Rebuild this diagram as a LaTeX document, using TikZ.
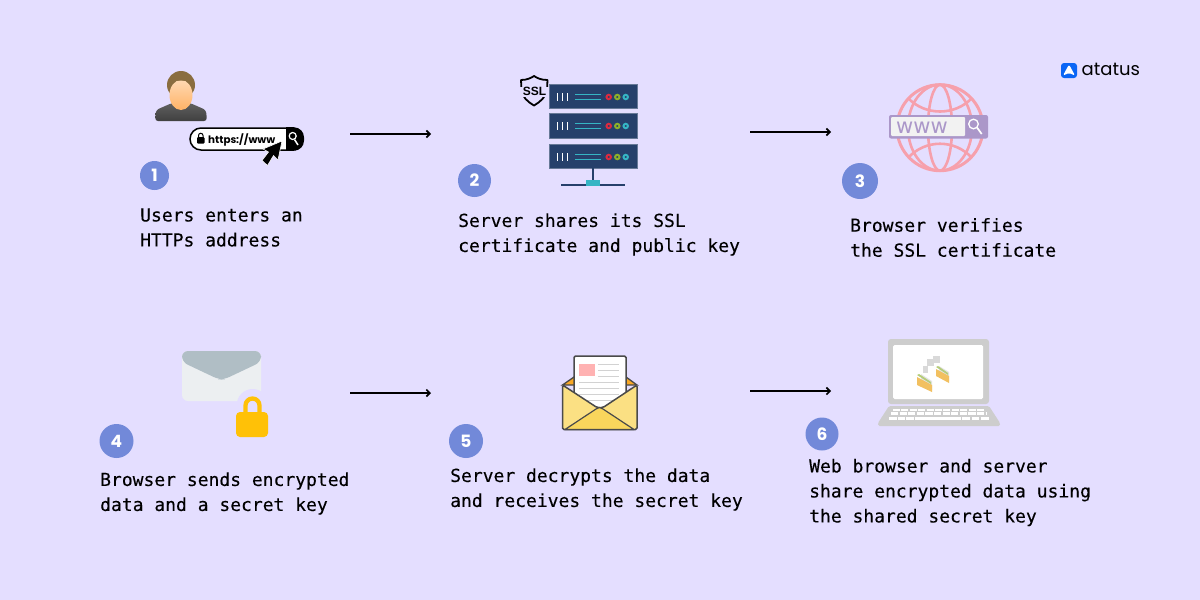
\documentclass[tikz,border=0pt]{standalone}
\usepackage{fontspec}
\setmainfont{DejaVu Sans Mono}
\newfontfamily\logofont{Poppins}
\newfontfamily\barfont{Liberation Sans}
\newfontfamily\wwwfont{DejaVu Sans}
\usetikzlibrary{arrows.meta}
\definecolor{page_bg}{HTML}{E4DEFF}
\definecolor{badge_blue}{HTML}{7289D9}
\definecolor{logo_blue}{HTML}{0B66F5}
\definecolor{hair_brown}{HTML}{8A6D3F}
\definecolor{rack_blue}{HTML}{26406B}
\definecolor{rack_teal}{HTML}{35B5C4}
\definecolor{rack_red}{HTML}{DC2A40}
\definecolor{rack_green}{HTML}{8DB02A}
\definecolor{globe_pink}{HTML}{F6A0AC}
\definecolor{globe_purple}{HTML}{AB97C9}
\definecolor{mail_body}{HTML}{ECEFF1}
\definecolor{mail_flap}{HTML}{B0BEC5}
\definecolor{lock_gold}{HTML}{FFC107}
\definecolor{mail_line}{HTML}{4A4A4A}
\definecolor{open_body}{HTML}{FBE083}
\definecolor{open_flap}{HTML}{F9D65C}
\definecolor{open_back}{HTML}{F9A825}
\definecolor{laptop_gray}{HTML}{CDCDCD}
\definecolor{folder_gold}{HTML}{F2C060}
\definecolor{folder_green}{HTML}{B5CC7A}

\begin{document}
\begin{tikzpicture}
  [x=1pt, y=-1pt]
  \tikzstyle{badge} = [circle, fill=badge_blue, text=white, inner sep=0pt, font=\logofont\bfseries\fontsize{17}{17}\selectfont];
  \tikzstyle{caption} = [anchor=west, align=left, inner sep=0pt, text=black, font=\fontsize{18}{25}\selectfont\addfontfeature{FakeBold=0.2}];
  \tikzstyle{flow_arrow} = [draw=black, line width=1.3pt, -{Straight Barb[length=3.5pt, width=7pt, line width=1.6pt]}];
  \tikzstyle{rack} = [fill=rack_blue, draw=rack_blue!70!white, line width=0.7pt];
  \tikzstyle{rack_bar} = [draw=white, line width=1.7pt];
  \tikzstyle{rack_line} = [draw=rack_teal, line width=1.7pt];
  \tikzstyle{led_red} = [circle, draw=rack_red, line width=2pt];
  \tikzstyle{led_green} = [circle, draw=rack_green, line width=2pt];
  \tikzstyle{led_teal} = [circle, draw=rack_teal, line width=2pt];
  \tikzstyle{paper_line} = [draw=gray!35, line width=1.6pt];
  \tikzstyle{key_row} = [draw=white, line width=3pt];

  \fill[page_bg] (0, 0) rectangle (1200, 600);
  \useasboundingbox (0, 0) rectangle (1200, 600);

  % logo
  \fill[logo_blue, rounded corners=3pt] (1061, 63) rectangle (1077, 78);
  \fill[white, rounded corners=1.5pt] (1069, 64.5) -- (1075, 75.5) -- (1069, 73) -- (1063, 75.5) -- cycle;
  \node[anchor=base west, inner sep=0pt, font=\logofont\fontsize{18}{18}\selectfont] (logo) at (1081.5, 75.7) {atatus};

  % step 1: user
  \shade[top color=gray!75!black, bottom color=black!75, rounded corners=3pt] (155, 121) -- (156, 110) -- (172, 103) -- (190, 103) -- (206, 110) -- (207, 121) -- cycle;
  \fill[orange!55!yellow!70!white] (175, 100) rectangle (187, 108);
  \fill[hair_brown] (181, 85) ellipse (14 and 14);
  \shade[top color=orange!30!white, bottom color=orange!60!white] (181, 95) ellipse (11.5 and 15);
  \fill[hair_brown] (168, 82) .. controls (172, 80) and (190, 80) .. (194, 82) .. controls (190, 73) and (172, 73) .. (168, 82) -- cycle;
  \draw[draw=black, fill=white, line width=1.5pt, rounded corners=11pt] (190, 128) rectangle (303, 150);
  \fill[black, rounded corners=10pt] (286, 127.3) -- (304, 127.3) -- (304, 150.7) -- (286, 150.7) [sharp corners] -- cycle;
  \fill[black] (286, 127.3) rectangle (294, 150.7);
  \fill[black, rounded corners=1pt] (197, 137) rectangle (204.5, 143.5);
  \draw[black, line width=1pt] (198.5, 138) -- (198.5, 135.5) arc (180:360:2.25) -- (203, 138);
  \node[font=\logofont\bfseries\fontsize{10.3}{10.3}\selectfont, inner sep=0pt, anchor=west] (url) at (208, 139.5) {https://www};
  \draw[white, line width=1.2pt] (292.7, 136) circle (3.5);
  \draw[white, line width=1.5pt] (294.5, 139.5) -- (298, 145);
  \draw[white, fill=black, line width=0.6pt, line join=round] (282, 141) -- (278, 160) -- (273.5, 155.5) -- (267.5, 165.5) -- (262, 160.5) -- (268.5, 152) -- (263, 149) -- cycle;
  \node[badge, minimum size=29pt] (badge_a) at (154.5, 175.5) {1};
  \node[caption] (text_a) at (140, 227.5) {Users enters an\\HTTPs address};

  % step 2: server
  \path[rack] (549, 84) rectangle (637, 108);
  \path[rack] (549, 113.5) rectangle (637, 138);
  \path[rack] (549, 144.5) rectangle (637, 168.5);

  \draw[rack_bar] (557.5, 93) -- (557.5, 101);
  \draw[rack_bar] (562.5, 93) -- (562.5, 101);
  \draw[rack_bar] (567.5, 93) -- (567.5, 101);
  \draw[rack_line] (575, 94.5) -- (601, 94.5);
  \draw[rack_line] (575, 99.5) -- (601, 99.5);
  \draw[led_red] (608.7, 97) circle (2.2);
  \draw[led_green] (617.3, 97) circle (2.2);
  \draw[led_teal] (625.7, 97) circle (2.2);

  \draw[rack_bar] (557.5, 122) -- (557.5, 130);
  \draw[rack_bar] (562.5, 122) -- (562.5, 130);
  \draw[rack_bar] (567.5, 122) -- (567.5, 130);
  \draw[rack_line] (575, 123.5) -- (601, 123.5);
  \draw[rack_line] (575, 128.5) -- (601, 128.5);
  \draw[led_red] (608.7, 126) circle (2.2);
  \draw[led_green] (617.3, 126) circle (2.2);
  \draw[led_teal] (625.7, 126) circle (2.2);

  \draw[rack_bar] (557.5, 153) -- (557.5, 161);
  \draw[rack_bar] (562.5, 153) -- (562.5, 161);
  \draw[rack_bar] (567.5, 153) -- (567.5, 161);
  \draw[rack_line] (575, 154.5) -- (601, 154.5);
  \draw[rack_line] (575, 159.5) -- (601, 159.5);
  \draw[led_red] (608.7, 157) circle (2.2);
  \draw[led_green] (617.3, 157) circle (2.2);
  \draw[led_teal] (625.7, 157) circle (2.2);

  \draw[draw=rack_blue, line width=1.8pt] (592.7, 168) -- (592.7, 184);
  \draw[draw=rack_blue, line width=2pt] (561, 184.5) -- (625, 184.5);
  \fill[rack_teal] (586, 179.5) rectangle (599.5, 186);

  % ssl shield
  \draw[black, line width=1.8pt, line join=round] (521, 80) .. controls (527, 80) and (531, 78) .. (534, 76) .. controls (537, 78) and (541, 80) .. (547.5, 80) -- (547, 90) .. controls (546, 97) and (540, 102) .. (534, 105.5) .. controls (528, 102) and (522, 97) .. (521.5, 90) -- cycle;
  \fill[page_bg] (520, 87) rectangle (549, 97);
  \node[font=\barfont\bfseries\fontsize{12}{12}\selectfont, inner sep=0pt] (ssl) at (534.5, 91.5) {SSL};
  \node[badge, minimum size=33pt] (badge_b) at (474.5, 180.5) {2};
  \node[caption] (text_b) at (458, 234.5) {Server shares its SSL\\certificate and public key};

  % step 3: globe
  \draw[globe_pink, line width=3pt] (940, 127.7) circle (43);
  \draw[globe_pink, line width=2.6pt] (940, 127.7) ellipse (12 and 43);
  \draw[globe_pink, line width=2.6pt] (940, 127.7) ellipse (32 and 43);
  \draw[globe_pink, line width=2.6pt] (908, 98) .. controls (925, 116) and (955, 116) .. (972, 98);
  \draw[globe_pink, line width=2.6pt] (908, 158) .. controls (925, 139) and (955, 139) .. (972, 158);
  \fill[globe_purple, rounded corners=2pt] (889, 115) rectangle (988, 138.5);
  \fill[white!90!gray, rounded corners=1pt] (891, 117) rectangle (965, 136);
  \node[text=globe_purple, font=\wwwfont\fontsize{21}{21}\selectfont, inner sep=0pt, anchor=base west] (www_text) at (896, 133) {www};
  \draw[white, line width=1.3pt] (973.5, 124) circle (4.8);
  \draw[white, line width=1.7pt] (977, 127.5) -- (981.7, 134);
  \node[badge, minimum size=36pt] (badge_c) at (860, 181) {3};
  \node[caption] (text_c) at (850, 237.5) {Browser verifies\\the SSL certificate};

  % step 4: locked envelope
  \fill[mail_body, rounded corners=6pt] (182, 351) rectangle (261, 401);
  \fill[mail_flap, rounded corners=6pt] (182, 362) -- (182, 351) -- (261, 351) -- (261, 362) -- (224, 379.5) -- (219, 379.5) -- cycle;
  \fill[page_bg] (252.7, 405) circle (16);
  \draw[lock_gold, line width=4.3pt] (245.5, 414) -- (245.5, 405.5) arc (180:360:7) -- (259.5, 414);
  \fill[lock_gold, rounded corners=4pt] (236, 412) rectangle (268, 437);
  \node[badge, minimum size=34pt] (badge_d) at (116.5, 441) {4};
  \node[caption] (text_d) at (100, 493.5) {Browser sends encrypted\\data and a secret key};

  % step 5: open envelope
  \draw[draw=mail_line, fill=open_back, line width=1.3pt] (562.5, 385) -- (574, 377) -- (626, 377) -- (637, 385) -- cycle;
  \draw[draw=mail_line, fill=white, line width=1.5pt, rounded corners=1.5pt] (574, 356) rectangle (626, 412);
  \fill[red!30!white] (579, 364) rectangle (594.5, 376);
  \draw[paper_line] (598, 364.5) -- (619, 364.5);
  \draw[paper_line] (598, 370.5) -- (619, 370.5);
  \draw[paper_line] (598, 376.5) -- (619, 376.5);
  \draw[paper_line] (579, 382.5) -- (619, 382.5);
  \draw[paper_line] (579, 388.5) -- (619, 388.5);
  \draw[paper_line] (579, 394.5) -- (619, 394.5);
  \draw[paper_line] (579, 400.5) -- (619, 400.5);
  \draw[draw=mail_line, fill=open_body, line width=1.5pt, line join=round, rounded corners=1.5pt] (562.5, 385) -- (597, 407.5) -- (600, 407.5) -- (603, 407.5) -- (637, 385) -- (637, 429.5) -- (562.5, 429.5) -- cycle;
  \draw[draw=mail_line, fill=open_flap, line width=1.2pt, line join=round] (565, 429.5) -- (596, 409) -- (599.5, 407.5) -- (603, 409) -- (634, 429.5) -- cycle;
  \node[badge, minimum size=34pt] (badge_e) at (466, 441) {5};
  \node[caption] (text_e) at (450, 489.5) {Server decrypts the data\\and receives the secret key};

  % step 6: laptop
  \fill[laptop_gray, rounded corners=3pt] (888, 339) rectangle (989, 404);
  \fill[white, rounded corners=1.5pt] (893, 345) rectangle (983, 399);
  \fill[laptop_gray, rounded corners=1.5pt] (889, 406) -- (989, 406) -- (1000, 423) -- (1000, 426) -- (878, 426) -- (878, 423) -- cycle;
  \draw[key_row, line width=2.4pt, dash pattern=on 7pt off 1.4pt] (893, 410.2) -- (985, 410.2);
  \draw[key_row, dash pattern=on 7.2pt off 1.4pt] (891, 413.8) -- (987, 413.8);
  \draw[key_row] (889, 418.2) -- (896.5, 418.2);
  \draw[key_row] (897.5, 418.2) -- (905, 418.2);
  \draw[key_row] (906, 418.2) -- (913.5, 418.2);
  \draw[key_row] (914.5, 418.2) -- (960.5, 418.2);
  \draw[key_row] (962, 418.2) -- (970, 418.2);
  \draw[key_row] (971.5, 418.2) -- (979, 418.2);
  \draw[key_row] (980.5, 418.2) -- (989, 418.2);

  \fill[gray!30] (923, 366) rectangle (928, 373);
  \fill[gray!30] (927, 359) rectangle (934, 366);
  \fill[gray!30] (933, 356) rectangle (940, 363);

  \fill[gray!20] (921, 374) -- (932, 381) -- (932, 390) -- (921, 383) -- cycle;
  \fill[folder_green] (917, 375) -- (919, 374) -- (931, 382) -- (931, 384) -- cycle;
  \fill[folder_gold] (917, 377) -- (932, 385) -- (932, 392) -- (917, 385) -- cycle;
  \fill[gray!20] (939, 366) -- (949, 372) -- (949, 381) -- (939, 375) -- cycle;
  \fill[folder_green] (936, 367) -- (938, 366) -- (948, 373) -- (948, 375) -- cycle;
  \fill[folder_gold] (936, 369) -- (949, 376) -- (949, 383) -- (936, 376) -- cycle;

  \node[badge, minimum size=33pt] (badge_f) at (822, 434) {6};
  \node[caption] (text_f) at (809, 492.5) {Web browser and server\\share encrypted data using\\the shared secret key};

  % arrows
  \coordinate (arrow_a_start) at (350, 134);
  \coordinate (arrow_a_end) at (431, 134);
  \coordinate (arrow_b_start) at (750, 132);
  \coordinate (arrow_b_end) at (831, 132);
  \coordinate (arrow_c_start) at (350, 393);
  \coordinate (arrow_c_end) at (431, 393);
  \coordinate (arrow_d_start) at (750, 391);
  \coordinate (arrow_d_end) at (831, 391);

  \draw[flow_arrow] (arrow_a_start) -- (arrow_a_end);
  \draw[flow_arrow] (arrow_b_start) -- (arrow_b_end);
  \draw[flow_arrow] (arrow_c_start) -- (arrow_c_end);
  \draw[flow_arrow] (arrow_d_start) -- (arrow_d_end);

\end{tikzpicture}
\end{document}
